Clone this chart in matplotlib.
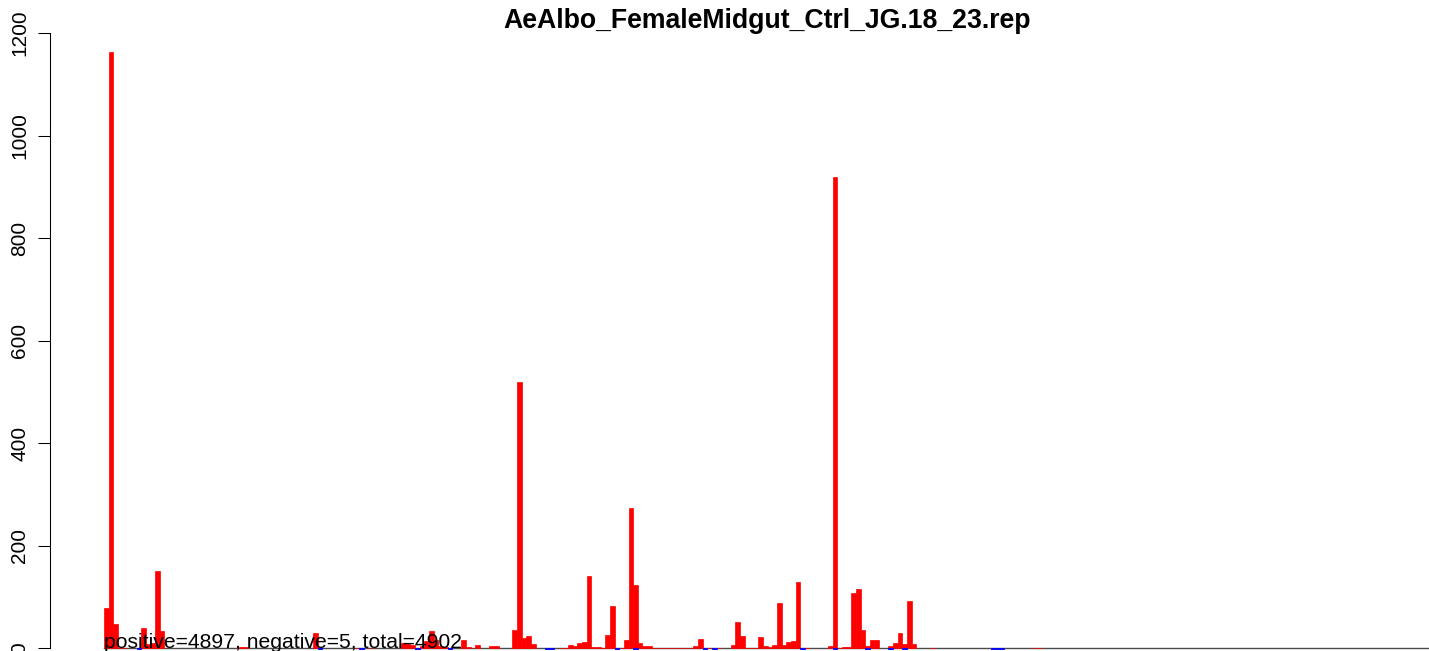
import matplotlib.pyplot as plt

plt.rcParams['font.family'] = ['Liberation Sans', 'DejaVu Sans']

title = "AeAlbo_FemaleMidgut_Ctrl_JG.18_23.rep"
note = "positive=4897, negative=5, total=4902"

# red bars: bin index -> read count
pos_bins = [0, 1, 2, 3, 4, 8, 9, 10, 11, 12,
            29, 30, 45, 54, 57, 64, 65, 66, 68, 69,
            70, 71, 72, 73, 77, 78, 80, 83, 84, 88,
            89, 90, 91, 92, 98, 99, 100, 101, 102, 103,
            104, 105, 106, 107, 108, 109, 111, 112, 113, 114,
            115, 116, 117, 118, 119, 120, 121, 122, 123, 124,
            125, 126, 127, 128, 130, 132, 135, 136, 137, 138,
            139, 140, 141, 142, 143, 144, 145, 146, 147, 148,
            149, 150, 151, 156, 157, 158, 159, 160, 161, 162,
            163, 164, 165, 166, 169, 170, 171, 172, 173, 174,
            178, 200, 201]
pos_counts = [78, 1163, 47, 1, 1, 40, 8, 10, 150, 33,
              2, 2, 30, 1, 1, 9, 8, 6, 3, 13,
              33, 16, 3, 2, 15, 2, 6, 3, 4, 35,
              519, 20, 23, 8, 1, 1, 5, 4, 9, 11,
              141, 2, 2, 1, 25, 82, 1, 16, 273, 123,
              9, 4, 4, 1, 1, 1, 1, 1, 1, 1,
              1, 1, 3, 17, 1, 1, 5, 51, 23, 1,
              1, 1, 21, 4, 2, 6, 88, 6, 11, 13,
              129, 1, 1, 4, 919, 1, 2, 2, 107, 115,
              35, 3, 16, 16, 4, 9, 29, 8, 92, 8,
              1, 1, 1]

# blue bars: bins with negative-strand reads
neg_bins = [7, 46, 55, 67, 74, 95, 96, 110, 114, 129,
            131, 150, 157, 164, 169, 172, 191, 192, 193]
neg_counts = [1, 1, 1, 1, 1, 1, 1, 1, 1, 1,
              1, 1, 1, 1, 1, 1, 1, 1, 1]

yticks = [0, 200, 400, 600, 800, 1000, 1200]

W, H = 1429, 651
fig = plt.figure(figsize=(W / 100, H / 100), dpi=100)
# plot region runs past the right and bottom edges, like the cropped original
ax = fig.add_axes([50 / W, (H - 671.9) / H, 1435 / W, 644.8 / H])
ax.set_xlim(-11.65, 297.55)
ax.set_ylim(-46.6, 1211.6)

ax.plot([0, 297.55], [0, 0], color='#4a4a4a', lw=1.0, zorder=1)
ax.bar(pos_bins, pos_counts, width=1, align='edge', color='red',
       edgecolor='red', linewidth=0.5, zorder=2)
ax.bar(neg_bins, [-c for c in neg_counts], width=1, align='edge', color='blue',
       edgecolor='blue', linewidth=0.6, zorder=3)

ax.text(0, 0, note, ha='left', va='baseline', fontsize=15.25, zorder=4)

for s in ['top', 'right', 'bottom']:
    ax.spines[s].set_visible(False)
ax.spines['left'].set_bounds(0, 1200)
ax.spines['left'].set_linewidth(0.75)
ax.set_xticks([])
ax.set_yticks(yticks)
ax.tick_params(axis='y', length=9, width=0.75, pad=6, labelsize=15, labelrotation=90)
for lab in ax.get_yticklabels():
    lab.set_va('center')

fig.text(767.5 / W, (H - 28) / H, title, ha='center', va='baseline',
         fontsize=19.2, fontweight='bold')

fig.savefig('out.png', dpi=100)
